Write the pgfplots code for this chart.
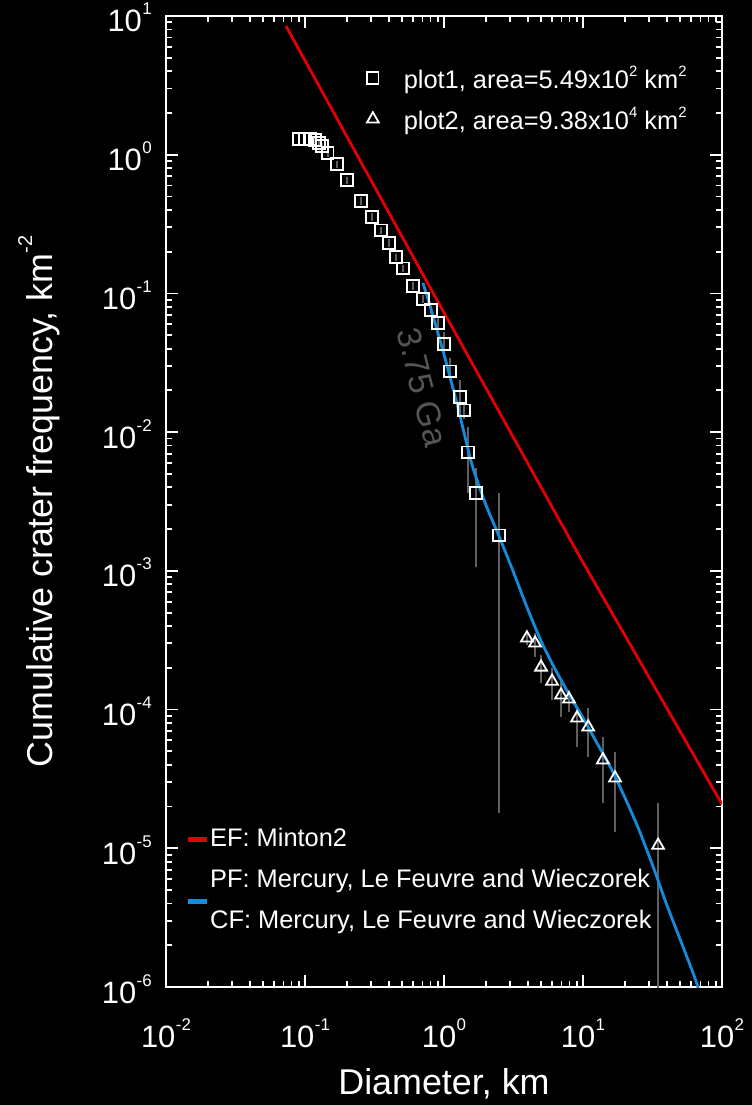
\documentclass[border=0pt]{standalone}
\usepackage{fontspec}
\setmainfont{Liberation Sans}
\usepackage{pgfplots}
\pgfplotsset{compat=1.18}

\definecolor{efred}{RGB}{228,0,0}
\definecolor{pfblue}{RGB}{20,140,222}
\definecolor{bargray}{RGB}{95,95,95}
\definecolor{agegray}{RGB}{85,85,85}

% 10 with a raised exponent, as used on both axes
\newcommand{\tenexp}[1]{10\kern0.5bp\raisebox{17bp}{\fontsize{17}{17}\selectfont #1}}
\newcommand{\legsup}[1]{\raisebox{12bp}{\fontsize{15}{15}\selectfont #1}}

\begin{document}
\begin{tikzpicture}
\useasboundingbox (0,0) rectangle (752bp,1105bp);
\fill[black] (0,0) rectangle (752bp,1105bp);

% ---- frame, model curves and error bars ----
\begin{axis}[
  at={(166bp,118bp)}, anchor=south west,
  width=556bp, height=971bp, scale only axis,
  xmode=log, ymode=log,
  xmin=0.01, xmax=100, ymin=1e-6, ymax=10,
  axis background/.style={fill=black},
  axis line style={white, line width=2.4bp},
  tick align=inside, tick pos=both,
  major tick length=12bp, minor tick length=6.5bp,
  tick style={white, line width=1.8bp},
  xtick={0.01,0.1,1,10,100},
  xticklabels={\tenexp{-2},\tenexp{-1},\tenexp{0},\tenexp{1},\tenexp{2}},
  minor xtick={0.02,0.03,0.04,0.05,0.06,0.07,0.08,0.09,
               0.2,0.3,0.4,0.5,0.6,0.7,0.8,0.9,
               2,3,4,5,6,7,8,9,20,30,40,50,60,70,80,90},
  ytick={1e-6,1e-5,1e-4,1e-3,1e-2,1e-1,1,10},
  yticklabels={\tenexp{-6},\tenexp{-5},\tenexp{-4},\tenexp{-3},\tenexp{-2},\tenexp{-1},\tenexp{0},\tenexp{1}},
  minor ytick={2e-6,3e-6,4e-6,5e-6,6e-6,7e-6,8e-6,9e-6,
               2e-5,3e-5,4e-5,5e-5,6e-5,7e-5,8e-5,9e-5,
               2e-4,3e-4,4e-4,5e-4,6e-4,7e-4,8e-4,9e-4,
               2e-3,3e-3,4e-3,5e-3,6e-3,7e-3,8e-3,9e-3,
               0.02,0.03,0.04,0.05,0.06,0.07,0.08,0.09,
               0.2,0.3,0.4,0.5,0.6,0.7,0.8,0.9,
               2,3,4,5,6,7,8,9},
  x tick label style={font=\fontsize{31}{31}\selectfont, text=white, inner sep=0pt, anchor=base, yshift=-60bp},
  y tick label style={font=\fontsize{31}{31}\selectfont, text=white, inner sep=0pt, anchor=base east, xshift=-14bp, yshift=-16bp},
  xlabel={Diameter, km},
  ylabel={Cumulative crater frequency, km\raisebox{20bp}{\fontsize{20}{20}\selectfont -2}},
  every axis x label/.style={at={(axis description cs:0.5,-0.1112)}, anchor=base,
    font=\fontsize{36}{36}\selectfont, text=white},
  every axis y label/.style={at={(axis description cs:-0.2050,0.5)}, rotate=90, anchor=base,
    font=\fontsize{36}{36}\selectfont, text=white},
  legend style={at={(rel axis cs:0.0345,0.1658)}, anchor=north west,
    draw=none, fill=none, inner sep=0pt, outer sep=0pt,
    font=\fontsize{25.5}{25.5}\selectfont, text=white, row sep=15bp,
    nodes={inner sep=0pt, text height=20bp, text depth=6bp},
    /tikz/every odd column/.style={column sep=1bp}},
  legend cell align=left,
  legend image code/.code={\draw[#1, line width=5bp] (0bp,0bp) -- (19bp,0bp);},
]

% error bars of both counts
\addplot[bargray, line width=1.8bp, mark=none, forget plot, unbounded coords=jump] coordinates {
  (0.0906,1.220) (0.0906,1.376) (0.0906,nan)
  (0.100,1.220) (0.100,1.376) (0.100,nan)
  (0.1087,1.220) (0.1087,1.376) (0.1087,nan)
  (0.118,1.199) (0.118,1.353) (0.118,nan)
  (0.126,1.141) (0.126,1.287) (0.126,nan)
  (0.1325,1.086) (0.1325,1.224) (0.1325,nan)
  (0.146,0.966) (0.146,1.090) (0.146,nan)
  (0.170,0.806) (0.170,0.908) (0.170,nan)
  (0.2005,0.618) (0.2005,0.696) (0.2005,nan)
  (0.253,0.436) (0.253,0.492) (0.253,nan)
  (0.303,0.335) (0.303,0.377) (0.303,nan)
  (0.352,0.269) (0.352,0.303) (0.352,nan)
  (0.402,0.217) (0.402,0.245) (0.402,nan)
  (0.452,0.172) (0.452,0.194) (0.452,nan)
  (0.507,0.143) (0.507,0.161) (0.507,nan)
  (0.598,0.106) (0.598,0.120) (0.598,nan)
  (0.706,0.0857) (0.706,0.0967) (0.706,nan)
  (0.806,0.0713) (0.806,0.0805) (0.806,nan)
  (0.906,0.0565) (0.906,0.0665) (0.906,nan)
  (1.0,0.0372) (1.0,0.0527) (1.0,nan)
  (1.104,0.0249) (1.104,0.0342) (1.104,nan)
  (1.303,0.0140) (1.303,0.0238) (1.303,nan)
  (1.393,0.0125) (1.393,0.0165) (1.393,nan)
  (1.489,0.00364) (1.489,0.0109) (1.489,nan)
  (1.70,0.00106) (1.70,0.00551) (1.70,nan)
  (2.49,1.79e-5) (2.49,0.00364) (2.49,nan)
  (3.95,2.9e-4) (3.95,3.7e-4) (3.95,nan)
  (4.52,2.39e-4) (4.52,3.56e-4) (4.52,nan)
  (4.99,1.55e-4) (4.99,2.47e-4) (4.99,nan)
  (5.99,1.17e-4) (5.99,1.99e-4) (5.99,nan)
  (6.95,8.83e-5) (6.95,1.58e-4) (6.95,nan)
  (7.93,9.6e-5) (7.93,1.38e-4) (7.93,nan)
  (9.06,5.37e-5) (9.06,1.04e-4) (9.06,nan)
  (10.9,4.55e-5) (10.9,1.03e-4) (10.9,nan)
  (13.9,2.12e-5) (13.9,6.34e-5) (13.9,nan)
  (17.0,1.31e-5) (17.0,4.94e-5) (17.0,nan)
  (34.7,1e-7) (34.7,2.12e-5)
};

% equilibrium function
\addplot[efred, line width=2.8bp, mark=none] coordinates {
  (0.073,8.47) (0.891,0.0895) (9.51,1.256e-3) (100,2.08e-5)
};
\addlegendentry{EF: Minton2}

% production function, 3.75 Ga isochron
\addplot[pfblue, line width=2.8bp, mark=none, smooth, tension=0.4,
  legend image code/.code={
    \path[draw=none, fill=none] (0bp,-3bp) rectangle (19bp,3bp);
    \draw[overlay, pfblue, line width=5bp] (0bp,-21bp) -- (19bp,-21bp);}
] coordinates {
  (0.706,0.1189) (0.794,0.0813) (1.0,0.0363) (1.259,0.01514) (1.585,0.00589)
  (1.995,0.00302) (2.512,0.001738) (3.162,9.77e-4) (3.981,5.37e-4) (5.012,3.09e-4)
  (6.310,1.95e-4) (7.943,1.288e-4) (10.0,8.71e-5) (12.59,5.75e-5) (15.85,3.80e-5)
  (19.95,2.34e-5) (25.12,1.38e-5) (31.62,7.59e-6) (39.81,3.98e-6) (50.12,2.19e-6)
  (63.10,1.20e-6) (72.0,8.0e-7)
};
\addlegendentry{PF: Mercury, Le Feuvre and Wieczorek}
\addlegendimage{legend image code/.code={\path[draw=none, fill=none] (0bp,-3bp) rectangle (19bp,3bp);}}
\addlegendentry{CF: Mercury, Le Feuvre and Wieczorek}

\node[rotate=-76, text=agegray, font=\fontsize{34}{34}\selectfont] at (axis cs:0.70,0.0211) {3.75 Ga};
\end{axis}

% ---- crater counts ----
\begin{axis}[
  at={(166bp,118bp)}, anchor=south west,
  width=556bp, height=971bp, scale only axis,
  xmode=log, ymode=log,
  xmin=0.01, xmax=100, ymin=1e-6, ymax=10,
  hide axis,
  legend style={at={(rel axis cs:0.3615,0.9485)}, anchor=north west,
    draw=none, fill=none, inner sep=0pt, outer sep=0pt,
    font=\fontsize{25.5}{25.5}\selectfont, text=white, row sep=17bp,
    nodes={inner sep=0pt, text height=22bp, text depth=2bp},
    /tikz/every odd column/.style={column sep=25bp}},
  legend cell align=left,
]
\addplot[only marks, mark=square, mark size=5.7bp, mark options={white, line width=1.8bp, fill=none}] coordinates {
  (0.0906,1.298) (0.100,1.298) (0.1087,1.298) (0.118,1.276) (0.126,1.214)
  (0.1325,1.155) (0.146,1.028) (0.170,0.857) (0.2005,0.657) (0.253,0.464)
  (0.303,0.356) (0.352,0.286) (0.402,0.231) (0.452,0.183) (0.507,0.152)
  (0.598,0.113) (0.706,0.0912) (0.806,0.0759) (0.906,0.0612) (1.0,0.0432)
  (1.104,0.0275) (1.303,0.0179) (1.393,0.0144) (1.489,0.00718) (1.70,0.00364)
  (2.49,0.00181)
};
\addlegendentry{plot1, area=5.49x10\legsup{2} km\legsup{2}}
\addplot[only marks, mark=triangle, mark size=6.8bp, mark options={white, line width=1.8bp, fill=none}] coordinates {
  (3.95,3.28e-4) (4.52,3.01e-4) (4.99,2.02e-4) (5.99,1.60e-4) (6.95,1.27e-4)
  (7.93,1.19e-4) (9.06,8.69e-5) (10.9,7.48e-5) (13.9,4.33e-5) (17.0,3.21e-5)
  (34.7,1.05e-5)
};
\addlegendentry{plot2, area=9.38x10\legsup{4} km\legsup{2}}
\end{axis}
\end{tikzpicture}
\end{document}
